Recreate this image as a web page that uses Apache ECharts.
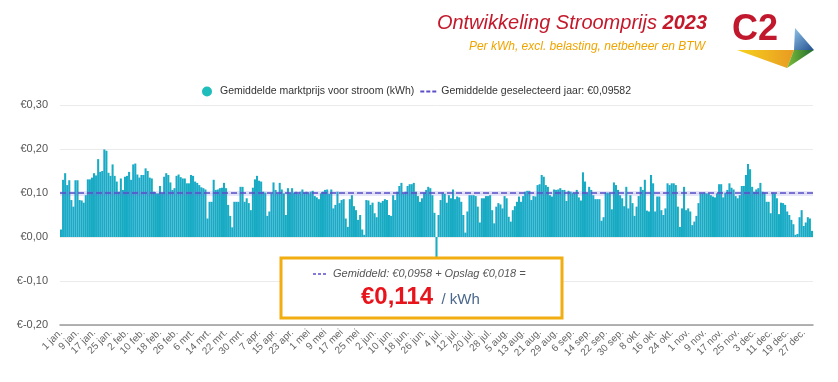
<!DOCTYPE html>
<html><head><meta charset="utf-8">
<script src="https://cdn.jsdelivr.net/npm/echarts@6/dist/echarts.min.js"></script>
<style>html,body{margin:0;padding:0;background:#fff}#c{width:838px;height:382px}</style>
</head><body><div id="c"></div>
<script>
// Dutch month abbreviations and lengths (2023)
const monthNames = ['jan.','feb.','mrt.','apr.','mei','jun.','jul.','aug.','sep.','okt.','nov.','dec.'];
const monthDays = [31,28,31,30,31,30,31,31,30,31,30,31];

// Daily average market price (€/kWh), 1 jan - 1 mei
const pricesJanApr = [
0.017,0.130,0.145,0.118,0.129,0.084,0.069,0.129,0.129,0.084,
0.083,0.078,0.095,0.131,0.131,0.135,0.145,0.140,0.177,0.148,
0.150,0.199,0.196,0.146,0.139,0.165,0.139,0.126,0.103,0.133,
0.107,0.137,0.139,0.148,0.130,0.165,0.167,0.142,0.135,0.141,
0.141,0.156,0.150,0.135,0.133,0.103,0.099,0.099,0.116,0.099,
0.137,0.145,0.141,0.124,0.107,0.111,0.139,0.142,0.136,0.133,
0.133,0.122,0.122,0.141,0.139,0.126,0.123,0.118,0.113,0.111,
0.108,0.042,0.080,0.080,0.130,0.107,0.108,0.111,0.112,0.123,
0.111,0.073,0.048,0.022,0.080,0.080,0.080,0.114,0.114,0.080,
0.088,0.077,0.061,0.112,0.131,0.139,0.128,0.126,0.103,0.101,
0.048,0.058,0.099,0.124,0.107,0.099,0.123,0.108,0.099,0.050,
0.111,0.099,0.111,0.101,0.103,0.098,0.103,0.108,0.101,0.103,
0.099];
// 2 mei - 1 jul
const pricesMayJun = [
0.103,0.105,0.093,0.090,0.086,0.099,0.103,0.107,0.108,0.098,
0.108,0.065,0.073,0.103,0.077,0.084,0.086,0.042,0.023,0.086,
0.095,0.070,0.061,0.039,0.050,0.017,0.005,0.084,0.083,0.073,
0.078,0.054,0.045,0.080,0.078,0.082,0.086,0.084,0.050,0.048,
0.095,0.084,0.103,0.116,0.123,0.099,0.103,0.116,0.120,0.120,
0.123,0.103,0.093,0.080,0.088,0.101,0.107,0.114,0.111,0.095,
0.055];
// 2 jul
const pricesJul2 = [-0.050];
// 3 jul - 30 aug
const pricesJulAug = [
0.050,0.084,0.101,0.098,0.078,0.095,0.088,0.108,0.086,0.092,
0.090,0.080,0.050,0.010,0.058,0.095,0.095,0.095,0.093,0.069,
0.033,0.088,0.088,0.093,0.093,0.095,0.061,0.031,0.069,0.077,
0.074,0.065,0.093,0.088,0.046,0.035,0.061,0.070,0.080,0.092,
0.080,0.093,0.103,0.105,0.105,0.084,0.093,0.092,0.118,0.120,
0.141,0.137,0.118,0.114,0.095,0.092,0.108,0.107,0.108];
// 31 aug - 31 dec
const pricesSepDec = [
0.111,0.107,0.107,0.082,0.105,0.103,0.101,0.099,0.107,0.090,
0.083,0.147,0.126,0.099,0.114,0.107,0.095,0.086,0.086,0.086,
0.037,0.045,0.101,0.101,0.099,0.063,0.124,0.118,0.107,0.095,
0.088,0.070,0.114,0.065,0.095,0.077,0.048,0.069,0.093,0.114,
0.107,0.130,0.060,0.058,0.141,0.122,0.058,0.092,0.092,
0.061,0.050,0.065,0.122,0.118,0.122,0.122,0.118,0.069,0.023,
0.065,0.114,0.061,0.065,0.058,0.027,0.035,0.048,0.077,0.099,
0.099,0.101,0.099,0.099,0.095,0.092,0.090,0.099,0.120,0.120,
0.090,0.101,0.107,0.122,0.112,0.108,0.093,0.088,0.095,0.116,
0.116,0.141,0.166,0.154,0.114,0.103,0.108,0.111,0.123,0.103,
0.101,0.080,0.080,0.054,0.101,0.099,0.088,0.052,0.078,
0.077,0.073,0.058,0.050,0.039,0.029,0.005,0.007,0.045,0.061,
0.025,0.033,0.045,0.042,0.014];

const yearAverage = 0.09582;
const yTickLabels = ['€-0,20','€-0,10','€0,00','€0,10','€0,20','€0,30'];
const seriesNames = ['Gemiddelde marktprijs voor stroom (kWh)', 'Gemiddelde geselecteerd jaar: €0,09582'];

const prices = [].concat(pricesJanApr, pricesMayJun, pricesJul2, pricesJulAug, pricesSepDec);
const categories = [];
monthDays.forEach((n, m) => { for (let d = 1; d <= n; d++) categories.push(d + ' ' + monthNames[m]); });

const chart = echarts.init(document.getElementById('c'), null, {renderer: 'canvas'});
const FONT = '"Liberation Sans", Arial, sans-serif';
const PURPLE = '#5a4fc9';
chart.setOption({
  animation: false,
  textStyle: {fontFamily: FONT},
  grid: {left: 60, right: 25, top: 105, bottom: 57},
  legend: {
    top: 81, left: 197, itemGap: 6, itemWidth: 16, itemHeight: 10,
    textStyle: {fontSize: 10.5, color: '#333', fontFamily: FONT},
    data: [
      {name: seriesNames[0], icon: 'circle', itemStyle: {color: '#1fbdbb'}},
      {name: seriesNames[1], icon: 'path://M0,4h4v2h-4zM6,4h4v2h-4zM12,4h4v2h-4zM0,0h0.01v0.01h-0.01zM0,10h0.01v0.01h-0.01z',
       itemStyle: {color: PURPLE}}
    ]
  },
  xAxis: {
    type: 'category', data: categories, boundaryGap: true,
    axisLine: {onZero: false, lineStyle: {color: '#999', width: 1.5}},
    axisTick: {show: false},
    axisLabel: {interval: 7, rotate: 45, fontSize: 10, color: '#666', margin: 6, fontFamily: FONT}
  },
  yAxis: {
    type: 'value', min: -0.2, max: 0.3, interval: 0.1,
    axisLine: {show: false}, axisTick: {show: false},
    splitLine: {lineStyle: {color: '#ebebeb', width: 1}},
    axisLabel: {fontSize: 11, color: '#555', margin: 12, fontFamily: FONT,
      formatter: v => yTickLabels[Math.round((v + 0.2) * 10)]}
  },
  series: [
    {
      name: seriesNames[0], type: 'bar', data: prices, barCategoryGap: '0%',
      itemStyle: {
        color: new echarts.graphic.LinearGradient(0, 0, 1, 0, [
          {offset: 0, color: '#1b9fdc'}, {offset: 0.5, color: '#18acc4'}, {offset: 1, color: '#17b6a9'}])
      }
    },
    {
      name: seriesNames[1], type: 'line', data: [], symbol: 'none',
      lineStyle: {color: PURPLE, type: 'dashed', width: 1.5},
      itemStyle: {color: PURPLE},
      markLine: {
        silent: true, symbol: ['none', 'none'], label: {show: false},
        data: [
          {yAxis: yearAverage, lineStyle: {color: 'rgba(120,110,220,0.18)', type: 'solid', width: 5}},
          {yAxis: yearAverage, lineStyle: {color: PURPLE, type: 'dashed', width: 1.5}}
        ]
      }
    }
  ],
  graphic: [
    {type: 'text', right: 131, top: 13, z: 10, style: {
      text: '{a|Ontwikkeling Stroomprijs }{b|2023}', fill: '#c4182b',
      rich: {a: {fontSize: 20, fontStyle: 'italic', fontFamily: FONT, fill: '#c4182b'},
             b: {fontSize: 20, fontStyle: 'italic', fontWeight: 'bold', fontFamily: FONT, fill: '#c4182b'}}}},
    {type: 'text', right: 133, top: 41, z: 10, style: {
      text: 'Per kWh, excl. belasting, netbeheer en BTW', fontSize: 12, fontStyle: 'italic',
      fontFamily: FONT, fill: '#f0a400'}},
    // logo
    {type: 'polygon', z: 10, shape: {points: [[737,50],[794,50],[787,68]]}, style: {
      fill: new echarts.graphic.LinearGradient(0,0,1,0,[{offset:0,color:'#f6d21c'},{offset:1,color:'#e99a22'}])}},
    {type: 'polygon', z: 10, shape: {points: [[795,28],[814,50],[794,50]]}, style: {
      fill: new echarts.graphic.LinearGradient(0,0,1,1,[{offset:0,color:'#8ec3e8'},{offset:1,color:'#24508f'}])}},
    {type: 'polygon', z: 10, shape: {points: [[794,50],[814,50],[787,68]]}, style: {
      fill: new echarts.graphic.LinearGradient(0,0,1,0,[{offset:0,color:'#7cbd3a'},{offset:1,color:'#1e6a2f'}])}},
    {type: 'text', left: 732, top: 12, z: 11, style: {
      text: 'C2', fontSize: 36, fontWeight: 900, fontFamily: FONT, fill: '#c1182d'}},
    // annotation box
    {type: 'rect', z: 20, shape: {x: 281, y: 258, width: 281, height: 60},
      style: {fill: '#fff', stroke: '#f2ae10', lineWidth: 3}},
    {type: 'line', z: 21, shape: {x1: 313, y1: 274, x2: 328, y2: 274},
      style: {stroke: PURPLE, lineWidth: 1.5, lineDash: [3, 2]}},
    {type: 'text', z: 21, left: 333, top: 268, style: {
      text: 'Gemiddeld: €0,0958 + Opslag €0,018 =', fontSize: 11, fontStyle: 'italic',
      fontFamily: FONT, fill: '#555'}},
    {type: 'text', z: 21, left: 361, top: 285, style: {
      text: '{a|€0,114}{b|  / kWh}',
      rich: {a: {fontSize: 24, fontWeight: 'bold', fill: '#e8141c', fontFamily: FONT},
             b: {fontSize: 15, fill: '#4a678c', fontFamily: FONT, padding: [6,0,0,0]}}}}
  ]
});
</script></body></html>
